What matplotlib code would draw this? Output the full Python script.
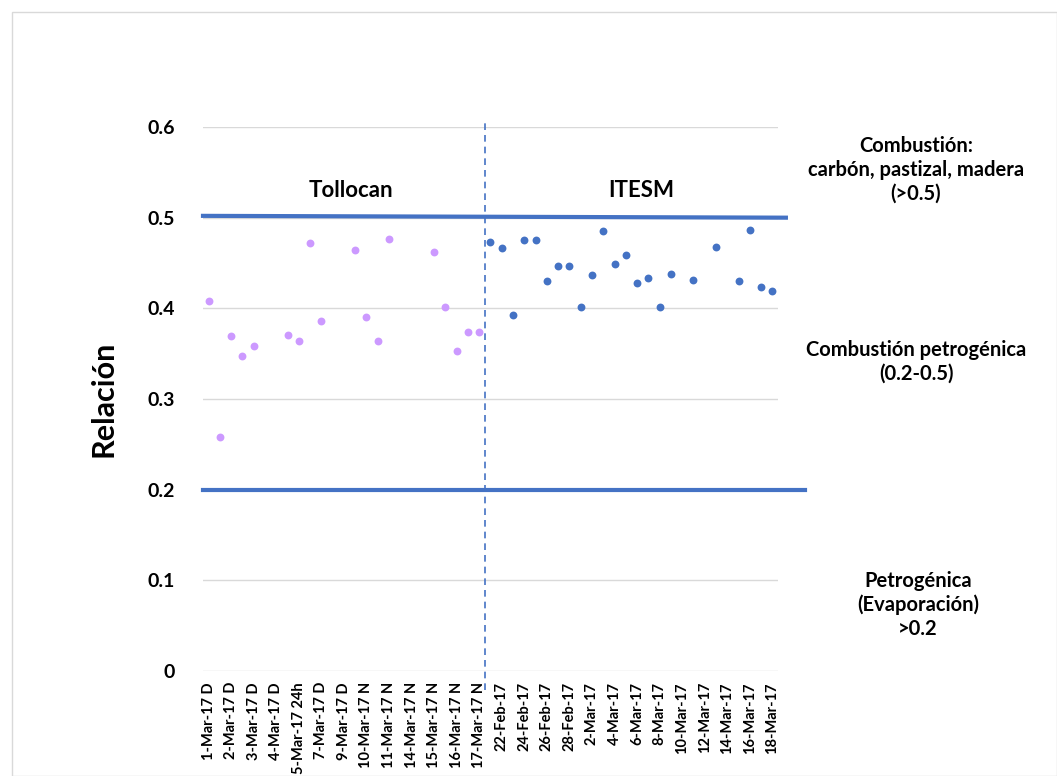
import matplotlib
matplotlib.use("Agg")
import matplotlib.pyplot as plt
import numpy as np
from matplotlib.patches import Rectangle

plt.rcParams['font.family'] = ['Lato', 'DejaVu Sans']

# ---- data ----
tick_labels = ["1-Mar-17 D", "2-Mar-17 D", "3-Mar-17 D", "4-Mar-17 D", "5-Mar-17 24h",
               "7-Mar-17 D", "9-Mar-17 D", "10-Mar-17 N", "11-Mar-17 N", "14-Mar-17 N",
               "15-Mar-17 N", "16-Mar-17 N", "17-Mar-17 N",
               "22-Feb-17", "24-Feb-17", "26-Feb-17", "28-Feb-17", "2-Mar-17", "4-Mar-17",
               "6-Mar-17", "8-Mar-17", "10-Mar-17", "12-Mar-17", "14-Mar-17", "16-Mar-17",
               "18-Mar-17"]
n_categories = 51

tollocan_idx = [0, 1, 2, 3, 4, 7, 8, 9, 10, 13, 14, 15, 16, 20, 21, 22, 23, 24]
tollocan_val = [0.408, 0.258, 0.370, 0.347, 0.358, 0.371, 0.364, 0.472, 0.386,
                0.464, 0.390, 0.364, 0.476, 0.462, 0.401, 0.353, 0.374, 0.374]

itesm_idx = [25, 26, 27, 28, 29, 30, 31, 32, 33, 34, 35, 36, 37, 38, 39, 40, 41,
             43, 45, 47, 48, 49, 50]
itesm_val = [0.473, 0.466, 0.393, 0.475, 0.475, 0.430, 0.447, 0.447, 0.401, 0.437,
             0.485, 0.449, 0.459, 0.428, 0.434, 0.401, 0.438, 0.431, 0.468, 0.430,
             0.486, 0.424, 0.419]

upper_limit = 0.5
lower_limit = 0.2

BLUE = "#4472C4"
PURPLE = "#CC99FF"

fig = plt.figure(figsize=(10.57, 7.76), dpi=100)
W, H = 1057, 776
ax = fig.add_axes([203 / W, 1 - 671 / H, (778 - 203) / W, (671 - 127) / H])

ax.set_xlim(-0.5, n_categories - 0.5)
ax.set_ylim(0, 0.6)

ax.scatter(tollocan_idx, tollocan_val, s=32, color=PURPLE, zorder=3, linewidths=0)
ax.scatter(itesm_idx, itesm_val, s=32, color=BLUE, zorder=3, linewidths=0)

# threshold lines
ax.plot([-0.5, 51.2], [upper_limit + 0.002, upper_limit], color=BLUE, lw=3, clip_on=False, zorder=2)
ax.plot([-0.5, 52.9], [lower_limit, lower_limit], color=BLUE, lw=3, clip_on=False, zorder=2)

# separator
ax.plot([24.5, 24.5], [-0.021, 0.606], color=BLUE, lw=1.2, ls=(0, (4, 3)), clip_on=False, zorder=2)

ax.set_yticks(np.arange(0, 0.61, 0.1))
ax.set_yticklabels(["0", "0.1", "0.2", "0.3", "0.4", "0.5", "0.6"], fontsize=14, fontweight='bold')
ax.grid(axis='y', color='#D9D9D9', lw=1)
ax.set_axisbelow(True)
ax.set_xticks(np.arange(0, n_categories, 2))
ax.set_xticklabels(tick_labels, rotation=90, fontsize=10.5, fontweight='bold')
ax.tick_params(length=0, pad=8)
ax.tick_params(axis='y', pad=20)
for s in ax.spines.values():
    s.set_visible(False)

ax.set_ylabel("Relación", fontsize=22, fontweight='bold', labelpad=22)

ax.text(12.6, 0.53, "Tollocan", fontsize=16, fontweight='bold', ha='center', va='center')
ax.text(38.4, 0.53, "ITESM", fontsize=16, fontweight='bold', ha='center', va='center')

fig.text(916 / W, 1 - 170 / H, "Combustión:\ncarbón, pastizal, madera\n(>0.5)",
         fontsize=14.5, fontweight='bold', ha='center', va='center', linespacing=1.25)
fig.text(916 / W, 1 - 362 / H, "Combustión petrogénica\n(0.2-0.5)",
         fontsize=14.5, fontweight='bold', ha='center', va='center', linespacing=1.25)
fig.text(918 / W, 1 - 605 / H, "Petrogénica\n(Evaporación)\n>0.2",
         fontsize=14.5, fontweight='bold', ha='center', va='center', linespacing=1.25)

fig.add_artist(Rectangle((12 / W, 0), 1 - 12 / W, 1 - 12 / H, transform=fig.transFigure,
                         fill=False, edgecolor='#D9D9D9', lw=1))

fig.savefig("out.png", dpi=100)
